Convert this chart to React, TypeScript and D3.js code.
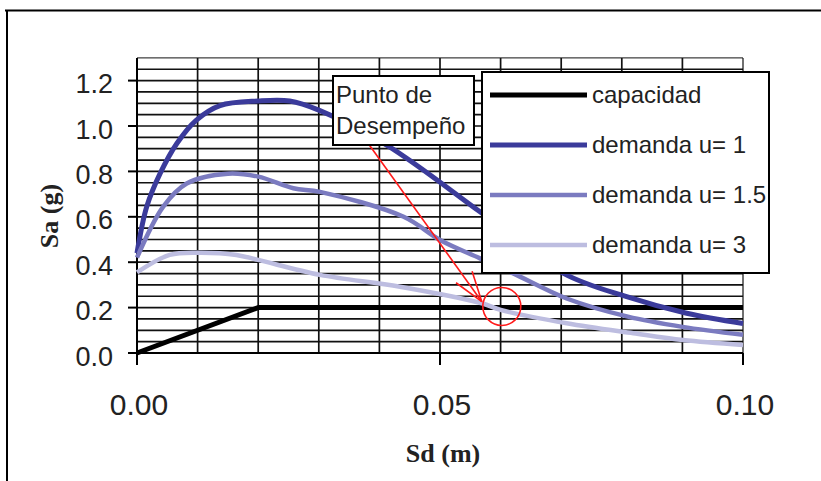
import React from "react";
import * as d3 from "d3";

// ---- data ----
const capSd = [0, 0.02, 0.1];
const capSa = [0, 0.2, 0.2];

const u1Sd = [0, 0.0016, 0.0038, 0.0066, 0.0098, 0.0137, 0.02, 0.0252, 0.03, 0.0412, 0.0566, 0.0703, 0.0808, 0.0907, 0.1];
const u1Sa = [0.44, 0.644, 0.79, 0.924, 1.026, 1.09, 1.11, 1.11, 1.07, 0.916, 0.622, 0.352, 0.248, 0.175, 0.13];

const u15Sd = [0, 0.0043, 0.0082, 0.015, 0.02, 0.0258, 0.0302, 0.044, 0.05, 0.0566, 0.062, 0.0709, 0.081, 0.09, 0.1];
const u15Sa = [0.42, 0.644, 0.747, 0.79, 0.777, 0.726, 0.71, 0.6, 0.498, 0.417, 0.352, 0.24, 0.16, 0.115, 0.08];

const u3Sd = [0, 0.0054, 0.0101, 0.0164, 0.02, 0.0302, 0.0434, 0.0569, 0.06, 0.0709, 0.0819, 0.0901, 0.1];
const u3Sa = [0.355, 0.432, 0.442, 0.432, 0.41, 0.344, 0.292, 0.219, 0.19, 0.131, 0.087, 0.057, 0.035];

const seriesNames = ["capacidad", "demanda u= 1", "demanda u= 1.5", "demanda u= 3"];
const seriesColors = ["#000000", "#3b3b9b", "#7b7bc0", "#bdbde0"];
const seriesWidths = [5, 5, 4.5, 4.5];

const yTicks = [0, 0.2, 0.4, 0.6, 0.8, 1.0, 1.2];
const xTicks = [0, 0.05, 0.1];
const xGrid = d3.range(0, 0.1001, 0.01);
const yGrid = d3.range(0, 1.3001, 0.05);

const annotationLines = ["Punto de", "Desempeño"];
const arrowFrom = { sd: 0.0381, sa: 0.925 };
const arrowTo = { sd: 0.0569, sa: 0.226 };
const perfPoint = { sd: 0.0602, sa: 0.205 };

export default function App() {
  const W = 821, H = 481;
  const x = d3.scaleLinear().domain([0, 0.1]).range([137, 743]);
  const y = d3.scaleLinear().domain([0, 1.3]).range([353, 57.9]);

  const series = [
    capSd.map((d, i) => [d, capSa[i]]),
    u1Sd.map((d, i) => [d, u1Sa[i]]),
    u15Sd.map((d, i) => [d, u15Sa[i]]),
    u3Sd.map((d, i) => [d, u3Sa[i]]),
  ] as [number, number][][];

  const lineSmooth = d3.line<[number, number]>().x(d => x(d[0])).y(d => y(d[1])).curve(d3.curveCatmullRom.alpha(0.5));
  const lineStraight = d3.line<[number, number]>().x(d => x(d[0])).y(d => y(d[1]));

  const ax0 = x(arrowFrom.sd), ay0 = y(arrowFrom.sa);
  const ax1 = x(arrowTo.sd), ay1 = y(arrowTo.sa);
  const ang = Math.atan2(ay0 - ay1, ax0 - ax1);
  const headLen = 32, headAng = (18 * Math.PI) / 180;
  const h1 = [ax1 + headLen * Math.cos(ang - headAng), ay1 + headLen * Math.sin(ang - headAng)];
  const h2 = [ax1 + headLen * Math.cos(ang + headAng), ay1 + headLen * Math.sin(ang + headAng)];

  const sans = "'Liberation Sans', Arial, sans-serif";
  const serif = "'Liberation Serif', 'Times New Roman', serif";

  const legX = 482, legY = 72, legW = 287, legH = 201;

  return (
    <svg width={W} height={H} style={{ position: "absolute", left: 0, top: 0, background: "#fff" }}>
      <rect x={0} y={0} width={W} height={H} fill="#fff" />
      {/* outer frame */}
      <line x1={5} y1={10.5} x2={W} y2={10.5} stroke="#000" strokeWidth={2} />
      <line x1={7} y1={10} x2={7} y2={H} stroke="#000" strokeWidth={2} />

      {/* grid */}
      {yGrid.map((v, i) => (
        <line key={"hy" + i} x1={x(0)} x2={x(0.1)} y1={y(v)} y2={y(v)} stroke="#111" strokeWidth={v > 1.26 ? 1 : 1.7} />
      ))}
      {xGrid.map((v, i) => (
        <line key={"vx" + i} x1={x(v)} x2={x(v)} y1={y(1.3)} y2={y(0)} stroke="#111" strokeWidth={i === 10 ? 1.2 : 1.7} />
      ))}

      {/* axes */}
      <line x1={x(0)} x2={x(0)} y1={y(1.3)} y2={365} stroke="#000" strokeWidth={2} />
      <line x1={x(0)} x2={x(0.1)} y1={y(0)} y2={y(0)} stroke="#000" strokeWidth={2} />
      {yTicks.map((v, i) => (
        <g key={"yt" + i}>
          <line x1={128} x2={x(0)} y1={y(v)} y2={y(v)} stroke="#000" strokeWidth={2} />
          <text x={113} y={y(v) + 12.6} textAnchor="end" fontFamily={sans} fontSize={27} fill="#222">
            {v.toFixed(1)}
          </text>
        </g>
      ))}
      {xTicks.map((v, i) => (
        <g key={"xt" + i}>
          <line x1={x(v)} x2={x(v)} y1={y(0)} y2={365} stroke="#000" strokeWidth={2} />
          <text x={x(v) + 2} y={415} textAnchor="middle" fontFamily={sans} fontSize={30} fill="#222">
            {v.toFixed(2)}
          </text>
        </g>
      ))}

      {/* axis titles */}
      <text x={443} y={462} textAnchor="middle" fontFamily={serif} fontWeight="bold" fontSize={26} fill="#222">
        Sd (m)
      </text>
      <text transform={`translate(58,216) rotate(-90)`} textAnchor="middle" fontFamily={serif} fontWeight="bold" fontSize={26} fill="#222">
        Sa (g)
      </text>

      {/* series */}
      {series.map((s, i) => (
        <path key={"s" + i} d={(i === 0 ? lineStraight(s) : lineSmooth(s)) || ""} fill="none" stroke={seriesColors[i]} strokeWidth={seriesWidths[i]} strokeLinejoin="round" />
      ))}

      {/* annotation arrow and circle */}
      <line x1={ax0} y1={ay0} x2={ax1} y2={ay1} stroke="#ff1a1a" strokeWidth={1.6} />
      <line x1={ax1} y1={ay1} x2={h1[0]} y2={h1[1]} stroke="#ff1a1a" strokeWidth={1.6} />
      <line x1={ax1} y1={ay1} x2={h2[0]} y2={h2[1]} stroke="#ff1a1a" strokeWidth={1.6} />
      <circle cx={x(perfPoint.sd)} cy={y(perfPoint.sa)} r={19} fill="none" stroke="#ff1a1a" strokeWidth={1.6} />

      {/* annotation box */}
      <rect x={333} y={76} width={141} height={69} fill="#fff" stroke="#000" strokeWidth={2} />
      {annotationLines.map((t, i) => (
        <text key={"an" + i} x={336} y={103 + i * 31} fontFamily={sans} fontSize={24} fill="#222">
          {t}
        </text>
      ))}

      {/* legend */}
      <rect x={legX} y={legY} width={legW} height={legH} fill="#fff" stroke="#000" strokeWidth={2} />
      {seriesNames.map((n, i) => {
        const ly = 95 + i * 50;
        return (
          <g key={"lg" + i}>
            <line x1={490} x2={587} y1={ly} y2={ly} stroke={seriesColors[i]} strokeWidth={seriesWidths[i]} />
            <text x={592} y={ly + 8.4} fontFamily={sans} fontSize={24} fill="#222">
              {n}
            </text>
          </g>
        );
      })}
    </svg>
  );
}
